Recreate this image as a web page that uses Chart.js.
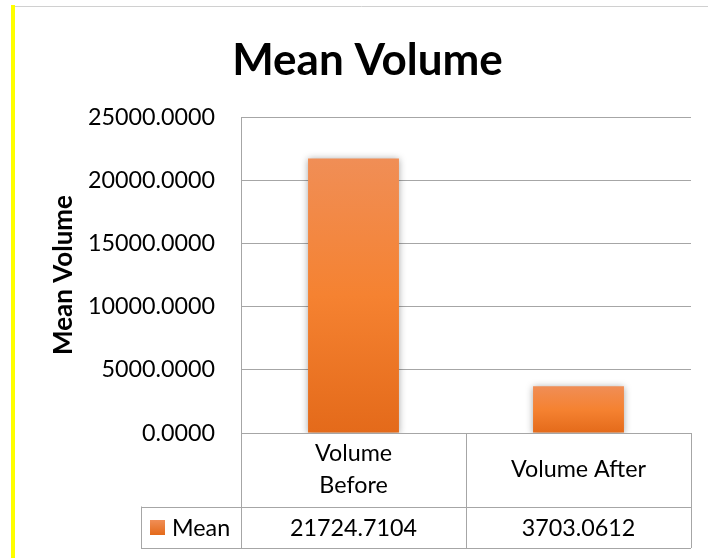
<!DOCTYPE html>
<html>
<head>
<meta charset="utf-8">
<script src="https://cdn.jsdelivr.net/npm/chart.js@4.4.1/dist/chart.umd.min.js"></script>
<style>
  html, body { margin: 0; padding: 0; background: #fff; }
  #wrap { position: relative; width: 708px; height: 558px; }
  canvas { display: block; }
</style>
</head>
<body>
<div id="wrap"><canvas id="c" width="708" height="558"></canvas></div>
<script>
const chartTitle = "Mean Volume";
const yAxisTitle = "Mean Volume";
const seriesName = "Mean";
const categories = [["Volume", "Before"], "Volume After"];
const meanValues = [21724.7104, 3703.0612];
const yTickMin = 0;
const yTickMax = 25000;
const yTickStep = 5000;

const FONT = "Lato, 'Open Sans', sans-serif";
const GRID = "#a6a6a6";
const TXT = 23.3;

function barGradient(ctx) {
  const chart = ctx.chart;
  if (!chart.chartArea || !chart.scales.y) return "#F58232";
  const y = chart.scales.y;
  const top = y.getPixelForValue(ctx.raw);
  const base = y.getPixelForValue(0);
  const g = chart.ctx.createLinearGradient(0, top, 0, base);
  g.addColorStop(0, "#F08E56");
  g.addColorStop(0.5, "#F58231");
  g.addColorStop(1, "#E46A1A");
  return g;
}

const decorPlugin = {
  id: "decor",
  beforeDraw(chart) {
    const c = chart.ctx;
    c.save();
    c.fillStyle = "#fff";
    c.fillRect(0, 0, chart.width, chart.height);
    c.fillStyle = "#FFFF00";
    c.fillRect(11, 5, 4, chart.height - 5);
    c.strokeStyle = "#d0d0d0";
    c.lineWidth = 1;
    c.beginPath();
    c.moveTo(15, 6.5);
    c.lineTo(chart.width, 6.5);
    c.stroke();
    c.restore();
  },
  beforeDatasetsDraw(chart) {
    const c = chart.ctx;
    c.save();
    c.shadowColor = "rgba(0,0,0,0.35)";
    c.shadowBlur = 7;
    c.shadowOffsetX = 0;
    c.shadowOffsetY = 1;
  },
  afterDatasetsDraw(chart) {
    chart.ctx.restore();
  },
  afterDraw(chart) {
    const c = chart.ctx;
    const x = chart.scales.x;
    const area = chart.chartArea;
    const n = chart.data.labels.length;
    const colW = (area.right - area.left) / n;
    const top = area.bottom;
    const rowSplit = top + 73.5;
    const bottom = rowSplit + 41;
    const legLeft = 141;
    c.save();
    c.strokeStyle = GRID;
    c.lineWidth = 1;
    c.beginPath();
    c.moveTo(area.left, Math.round(top) + 0.5); c.lineTo(area.right, Math.round(top) + 0.5);
    c.moveTo(legLeft, Math.round(rowSplit) + 0.5); c.lineTo(area.right, Math.round(rowSplit) + 0.5);
    c.moveTo(legLeft, Math.round(bottom) + 0.5); c.lineTo(area.right, Math.round(bottom) + 0.5);
    for (let i = 0; i <= n; i++) {
      const xx = Math.round(area.left + i * colW) + 0.5;
      c.moveTo(xx, top); c.lineTo(xx, bottom + 0.5);
    }
    c.moveTo(legLeft + 0.5, rowSplit); c.lineTo(legLeft + 0.5, bottom + 0.5);
    c.stroke();

    c.fillStyle = "#000";
    c.font = TXT + "px " + FONT;
    c.textAlign = "center";
    c.textBaseline = "middle";
    chart.data.labels.forEach((lab, i) => {
      const cx = x.getPixelForValue(i);
      const lines = Array.isArray(lab) ? lab : [lab];
      const lh = 32;
      const midY = (top + rowSplit) / 2;
      lines.forEach((ln, j) => {
        c.fillText(ln, cx, midY + (j - (lines.length - 1) / 2) * lh);
      });
      const v = chart.data.datasets[0].data[i];
      c.fillText(v.toFixed(4), cx, (rowSplit + bottom) / 2 + 1);
    });
    const sy = (rowSplit + bottom) / 2;
    const sg = c.createLinearGradient(0, sy - 7, 0, sy + 8);
    sg.addColorStop(0, "#F08E56");
    sg.addColorStop(1, "#E46A1A");
    c.fillStyle = sg;
    c.fillRect(150, sy - 7, 15, 15);
    c.fillStyle = "#000";
    c.textAlign = "left";
    c.fillText(chart.data.datasets[0].label, 172, sy + 1);
    c.restore();
  }
};

new Chart(document.getElementById("c"), {
  type: "bar",
  data: {
    labels: categories,
    datasets: [{
      label: seriesName,
      data: meanValues,
      backgroundColor: barGradient,
      borderWidth: 0,
      categoryPercentage: 0.8,
      barPercentage: 0.505
    }]
  },
  options: {
    responsive: false,
    animation: false,
    devicePixelRatio: 1,
    layout: { padding: { left: 44, right: 17, top: 0, bottom: 125 } },
    plugins: {
      legend: { display: false },
      tooltip: { enabled: false },
      title: {
        display: true,
        text: chartTitle,
        color: "#000",
        font: { family: FONT, size: 44, weight: "bold", lineHeight: 1.2 },
        padding: { top: 34, bottom: 30.2 }
      }
    },
    scales: {
      x: {
        display: false
      },
      y: {
        min: yTickMin,
        max: yTickMax,
        afterBuildTicks(scale) {
          const t = [];
          for (let v = yTickMin; v <= yTickMax; v += yTickStep) t.push({ value: v });
          scale.ticks = t;
        },
        afterFit(scale) { scale.width = 241 - 44; },
        border: { display: true, color: GRID, width: 1 },
        grid: { color: GRID, lineWidth: 1, drawTicks: false },
        ticks: {
          color: "#000",
          padding: 26,
          font: { family: FONT, size: TXT },
          callback: (v) => Number(v).toFixed(4)
        },
        title: {
          display: true,
          text: yAxisTitle,
          color: "#000",
          font: { family: FONT, size: 26, weight: "bold" },
          padding: { top: 4.5, bottom: 0 }
        }
      }
    }
  },
  plugins: [decorPlugin]
});
</script>
</body>
</html>
